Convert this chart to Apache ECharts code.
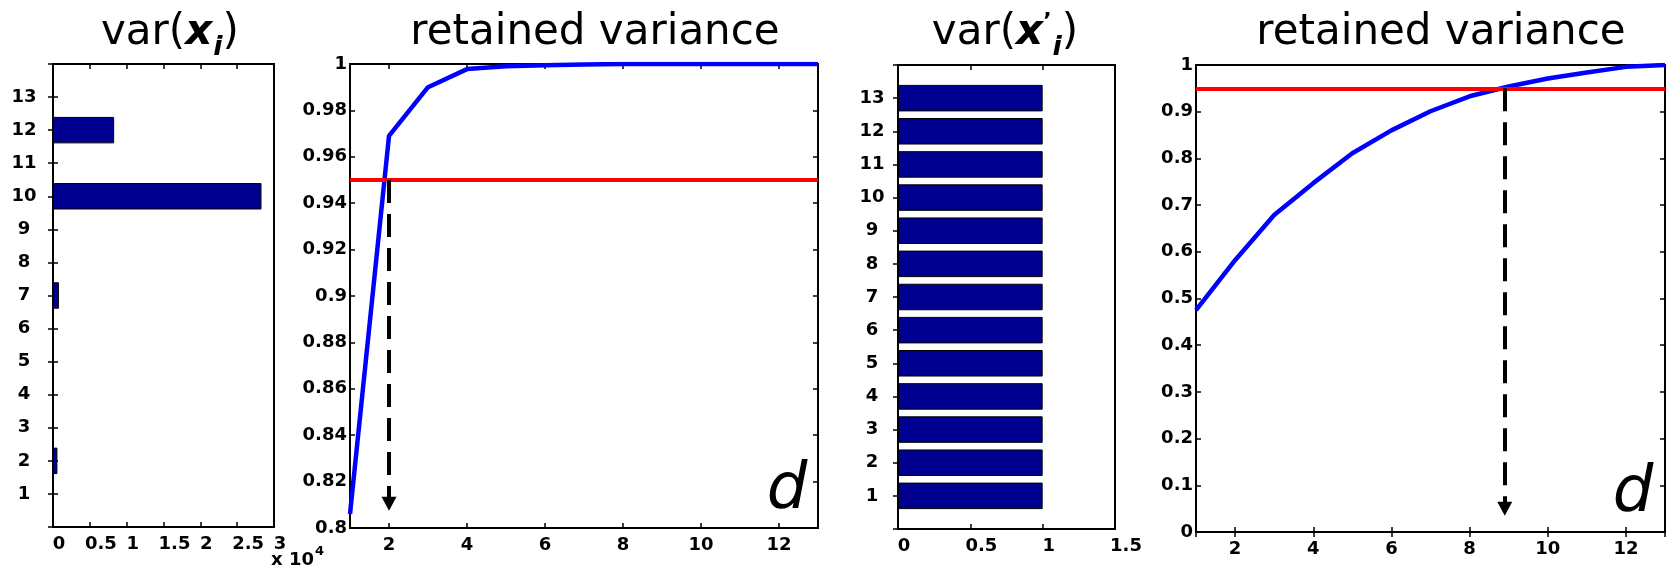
<!DOCTYPE html>
<html>
<head>
<meta charset="utf-8">
<title>Retained variance</title>
<script src="https://cdn.jsdelivr.net/npm/echarts@6/dist/echarts.min.js"></script>
<style>
  html, body { margin: 0; padding: 0; background: #fff; }
  #chart { width: 1670px; height: 571px; }
</style>
</head>
<body>
<div id="chart"></div>
<script>
// Feature indices shown on the bar panels
const features = ['1', '2', '3', '4', '5', '6', '7', '8', '9', '10', '11', '12', '13'];
// Per-feature variance of the raw data (in units of 10^4)
const varRaw = [0, 0.06, 0, 0, 0, 0, 0.08, 0, 0, 2.83, 0, 0.83, 0];
// Per-feature variance after standardisation
const varStandardized = [1, 1, 1, 1, 1, 1, 1, 1, 1, 1, 1, 1, 1];
// Number of retained components
const dims = [1, 2, 3, 4, 5, 6, 7, 8, 9, 10, 11, 12, 13];
// Cumulative fraction of variance kept, raw data
const retainedRaw = [0.806, 0.969, 0.990, 0.9978, 0.999, 0.9995, 0.9998, 1, 1, 1, 1, 1, 1];
// Cumulative fraction of variance kept, standardised data
const retainedStandardized = [0.475, 0.582, 0.679, 0.747, 0.811, 0.860, 0.901, 0.933, 0.954, 0.971, 0.984, 0.996, 1.0];
// Variance threshold and the dimension where each curve reaches it
const threshold = 0.95;
const cutoffRaw = 2;
const cutoffStandardized = 8.9;

const FONT = "'DejaVu Sans', 'Noto Sans', sans-serif";
const tickText = { fontFamily: FONT, fontWeight: 'bold', fontSize: 18, color: '#000' };
const tickStyle = { show: true, inside: true, length: 5, lineStyle: { color: '#000', width: 1.5 } };
const NAVY = '#000090';
const BLUE = '#0000ff';
const RED = '#ff0000';

const chart = echarts.init(document.getElementById('chart'), null, { renderer: 'canvas' });

// category rows padded with an empty slot below and above, giving a 0..14 range
const paddedRows = [''].concat(features, ['']);
const pad = arr => [null].concat(arr, [null]);

const grids = [
  { left: 53, top: 64, width: 221, height: 463 },
  { left: 350, top: 64, width: 468, height: 464 },
  { left: 898, top: 65, width: 217, height: 464 },
  { left: 1196, top: 65, width: 469, height: 467 }
].map(g => Object.assign({ show: true, borderColor: '#000', borderWidth: 2, backgroundColor: '#fff', containLabel: false }, g));

// tick labels on the bar panels start at their tick rather than centring on it
const shiftedLabel = {
  ...tickText,
  margin: 8,
  formatter: v => (Number.isInteger(v) ? '{i|' : '{f|') + v + '}',
  rich: {
    i: { ...tickText, padding: [0, 0, 0, 12] },
    f: { ...tickText, padding: [0, 0, 0, 22] }
  }
};

function valueAxisPair(gridIndex, base, label) {
  const common = Object.assign({
    type: 'value', gridIndex,
    axisLine: { show: false },
    splitLine: { show: false },
    axisTick: tickStyle
  }, base);
  return [
    Object.assign({}, common, { position: 'bottom', axisLabel: label }),
    Object.assign({}, common, { position: 'top', axisLabel: { show: false } })
  ];
}

function valueYPair(gridIndex, base) {
  const common = Object.assign({
    type: 'value', gridIndex,
    axisLine: { show: false },
    splitLine: { show: false },
    axisTick: tickStyle
  }, base);
  return [
    Object.assign({}, common, { position: 'left', axisLabel: { ...tickText, margin: 3, align: 'right' } }),
    Object.assign({}, common, { position: 'right', axisLabel: { show: false } })
  ];
}

function categoryYPair(gridIndex, margin) {
  const common = {
    type: 'category', gridIndex, data: paddedRows, boundaryGap: false,
    axisLine: { show: false },
    splitLine: { show: false },
    axisTick: Object.assign({}, tickStyle, { interval: 0 })
  };
  return [
    Object.assign({}, common, { position: 'left', axisLabel: { ...tickText, interval: 0, align: 'center', margin } }),
    Object.assign({}, common, { position: 'right', axisLabel: { show: false } })
  ];
}

const dimAxis = { min: 1, max: 13, splitNumber: 6 };
const dimLabel = { ...tickText, margin: 8, showMinLabel: false, showMaxLabel: false };

const xAxes = [].concat(
  valueAxisPair(0, { min: 0, max: 3, interval: 0.5 }, shiftedLabel),
  valueAxisPair(1, dimAxis, dimLabel),
  valueAxisPair(2, { min: 0, max: 1.5, interval: 0.5 }, shiftedLabel),
  valueAxisPair(3, dimAxis, dimLabel)
);

const yAxes = [].concat(
  categoryYPair(0, 29),
  valueYPair(1, { min: 0.8, max: 1, interval: 0.02 }),
  categoryYPair(2, 26),
  valueYPair(3, { min: 0, max: 1, interval: 0.1 })
);

function barSeries(axisIndex, values) {
  return {
    type: 'bar', xAxisIndex: axisIndex, yAxisIndex: axisIndex,
    data: pad(values), barWidth: '80%', silent: true,
    itemStyle: { color: NAVY, borderColor: '#000', borderWidth: 1 }
  };
}

function retainedSeries(axisIndex, values, cutoff, arrowEnd) {
  return {
    type: 'line', xAxisIndex: axisIndex, yAxisIndex: axisIndex,
    data: dims.map((d, i) => [d, values[i]]),
    showSymbol: false, symbol: 'none', silent: true,
    lineStyle: { color: BLUE, width: 4.5 },
    z: 3,
    markLine: {
      silent: true, animation: false,
      symbol: 'none',
      label: { show: false },
      emphasis: { disabled: true },
      data: [
        { yAxis: threshold, lineStyle: { color: RED, width: 4, type: 'solid' } },
        [
          { coord: [cutoff, threshold], symbol: 'none', lineStyle: { color: '#000', width: 4, type: [23, 11] } },
          { coord: [cutoff, arrowEnd], symbol: 'triangle', symbolSize: [15, 14] }
        ]
      ]
    }
  };
}

// Title text with an italic bold x and a lowered subscript i
const titleRich = {
  n: { fontFamily: FONT, fontSize: 42, lineHeight: 64, fill: '#000' },
  x: { fontFamily: FONT, fontSize: 42, lineHeight: 64, fontWeight: 'bold', fontStyle: 'italic', fill: '#000' },
  s: { fontFamily: FONT, fontSize: 27, lineHeight: 27, fontWeight: 'bold', fontStyle: 'italic', fill: '#000', padding: [30, 0, 0, 1] },
  p: { fontFamily: FONT, fontSize: 22, lineHeight: 22, fontWeight: 'bold', fill: '#000', padding: [0, 0, 22, 0] }
};

function titleText(x, text) {
  return {
    type: 'text', x, y: 33, silent: true,
    style: { text, rich: titleRich, align: 'center', verticalAlign: 'middle', fill: '#000' }
  };
}

function dText(x, y) {
  return {
    type: 'text', x, y, silent: true,
    style: { text: 'd', fontFamily: FONT, fontStyle: 'italic', fontSize: 64, fill: '#000', align: 'center', verticalAlign: 'middle' }
  };
}

const option = {
  backgroundColor: '#fff',
  animation: false,
  grid: grids,
  xAxis: xAxes,
  yAxis: yAxes,
  series: [
    barSeries(0, varRaw),
    retainedSeries(2, retainedRaw, cutoffRaw, 0.8105),
    barSeries(4, varStandardized),
    retainedSeries(6, retainedStandardized, cutoffStandardized, 0.05)
  ],
  graphic: [
    titleText(170, '{n|var(}{x|x}{s|i}{n|)}'),
    titleText(595, '{n|retained variance}'),
    titleText(1005, '{n|var(}{x|x}{p|\u2019}{s|i}{n|)}'),
    titleText(1441, '{n|retained variance}'),
    dText(787, 491),
    dText(1633, 494),
    // exponent of the var(x_i) axis scale
    {
      type: 'text', x: 271, y: 545, silent: true,
      style: {
        text: '{m|x 10}{e|4}',
        align: 'left', verticalAlign: 'top',
        rich: {
          m: { fontFamily: FONT, fontWeight: 'bold', fontSize: 18, lineHeight: 24, fill: '#000', padding: [6, 0, 0, 0] },
          e: { fontFamily: FONT, fontWeight: 'bold', fontSize: 13, lineHeight: 15, fill: '#000', padding: [0, 0, 10, 1] }
        }
      }
    }
  ]
};

chart.setOption(option);
</script>
</body>
</html>
